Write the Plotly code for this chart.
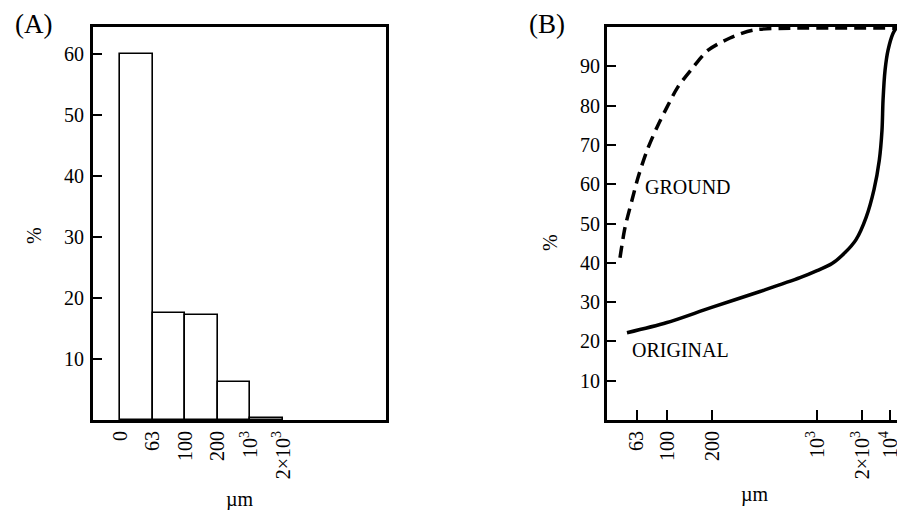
import plotly.graph_objects as go

# ---- Panel A data: particle size distribution (bins) ----
bin_edge_labels = ["0", "63", "100", "200", "10<sup>3</sup>", "2×10<sup>3</sup>"]
bin_pct = [60, 17.5, 17.2, 6.3, 0.3]

# ---- Panel B data: cumulative curves (µm vs %) ----
ground_size = [48.6, 52.5, 58.4, 64.1, 73.6, 85.8, 100, 118, 149, 188, 263, 374, 661, 3412]
ground_pct = [41.3, 49.0, 55.9, 61.7, 68.6, 74.5, 79.6, 84.7, 89.7, 94.1, 97.2, 99.2, 99.7, 99.7]

original_size = [54.1, 100, 196, 417, 770, 1000, 1259, 1537, 1820, 2121, 2399, 2600, 2710, 2754, 2840, 2974, 3213, 3412]
original_pct = [22.2, 24.8, 28.6, 32.7, 36.2, 38.0, 39.8, 42.6, 45.9, 51.5, 58.7, 66.1, 73.7, 81.4, 89.0, 94.1, 98.4, 100]

b_tick_vals = [63, 100, 200, 1000, 2000, 3070]
b_tick_text = ["63", "100", "200", "10<sup>3</sup>", "2×10<sup>3</sup>", "10<sup>4</sup>"]

a_y_ticks = [10, 20, 30, 40, 50, 60]
b_y_ticks = [10, 20, 30, 40, 50, 60, 70, 80, 90]

FONT = "Liberation Serif"
W, H = 897, 510

fig = go.Figure()

fig.add_trace(go.Bar(
    x=[i + 0.5 for i in range(len(bin_pct))], y=bin_pct, width=1,
    marker=dict(color="white", line=dict(color="black", width=1.6)),
    xaxis="x", yaxis="y", showlegend=False))

fig.add_trace(go.Scatter(
    x=ground_size, y=ground_pct, mode="lines",
    line=dict(color="black", width=3.5, dash="12px,7px", shape="spline", smoothing=0.8),
    xaxis="x2", yaxis="y2", showlegend=False))

fig.add_trace(go.Scatter(
    x=original_size, y=original_pct, mode="lines",
    line=dict(color="black", width=3.5, shape="spline", smoothing=0.9),
    xaxis="x2", yaxis="y2", showlegend=False))

ydom = [(H - 420) / H, (H - 27) / H]
tickfont = dict(family=FONT, size=20, color="black")

fig.update_layout(
    width=W, height=H,
    margin=dict(l=0, r=0, t=0, b=0),
    paper_bgcolor="white", plot_bgcolor="white",
    font=dict(family=FONT, size=20, color="black"),
    bargap=0,
    xaxis=dict(domain=[93 / W, 386 / W], range=[-0.83, 8.16],
               tickvals=list(range(len(bin_edge_labels))), ticktext=bin_edge_labels,
               tickangle=-90, ticks="", showgrid=False, zeroline=False,
               showline=True, mirror=True, linecolor="black", linewidth=3,
               tickfont=tickfont, anchor="y", automargin=False),
    yaxis=dict(domain=ydom, range=[0, 64.4], tickvals=a_y_ticks,
               ticks="inside", ticklen=9, tickwidth=1.5, tickcolor="black",
               showgrid=False, zeroline=False,
               showline=True, mirror=True, linecolor="black", linewidth=3,
               tickfont=tickfont, anchor="x", ticklabelstandoff=2, automargin=False),
    xaxis2=dict(domain=[607 / W, 1.0], type="log", range=[1.6, 3.533],
                tickvals=b_tick_vals, ticktext=b_tick_text,
                tickangle=-90, ticks="inside", ticklen=10, tickwidth=1.5, tickcolor="black",
                showgrid=False, zeroline=False,
                showline=True, mirror=True, linecolor="black", linewidth=3,
                tickfont=tickfont, anchor="y2", ticklabeloverflow="allow", automargin=False),
    yaxis2=dict(domain=ydom, range=[0, 100], tickvals=b_y_ticks,
                ticks="inside", ticklen=9, tickwidth=1.5, tickcolor="black",
                showgrid=False, zeroline=False,
                showline=True, mirror=False, linecolor="black", linewidth=3,
                tickfont=tickfont, anchor="x2", automargin=False),
)

def ann(text, x, y, size=20, angle=0, xanchor="center", xref="paper", yref="paper"):
    fig.add_annotation(text=text, x=x, y=y, xref=xref, yref=yref, showarrow=False,
                       xanchor=xanchor, yanchor="middle", textangle=angle,
                       font=dict(family=FONT, size=size, color="black"))

ann("(A)", 33 / W, 1 - 24 / H, size=27)
ann("(B)", 547 / W, 1 - 24 / H, size=27)
ann("%", 34 / W, 1 - 236 / H, angle=-90)
ann("%", 550 / W, 1 - 243 / H, angle=-90)
ann("µm", 240 / W, 1 - 499 / H)
ann("µm", 755 / W, 1 - 494 / H)
ann("GROUND", 1.84, 59.2, xanchor="left", xref="x2", yref="y2")
ann("ORIGINAL", 1.753, 17.9, xanchor="left", xref="x2", yref="y2")

fig.write_html("out.html")
